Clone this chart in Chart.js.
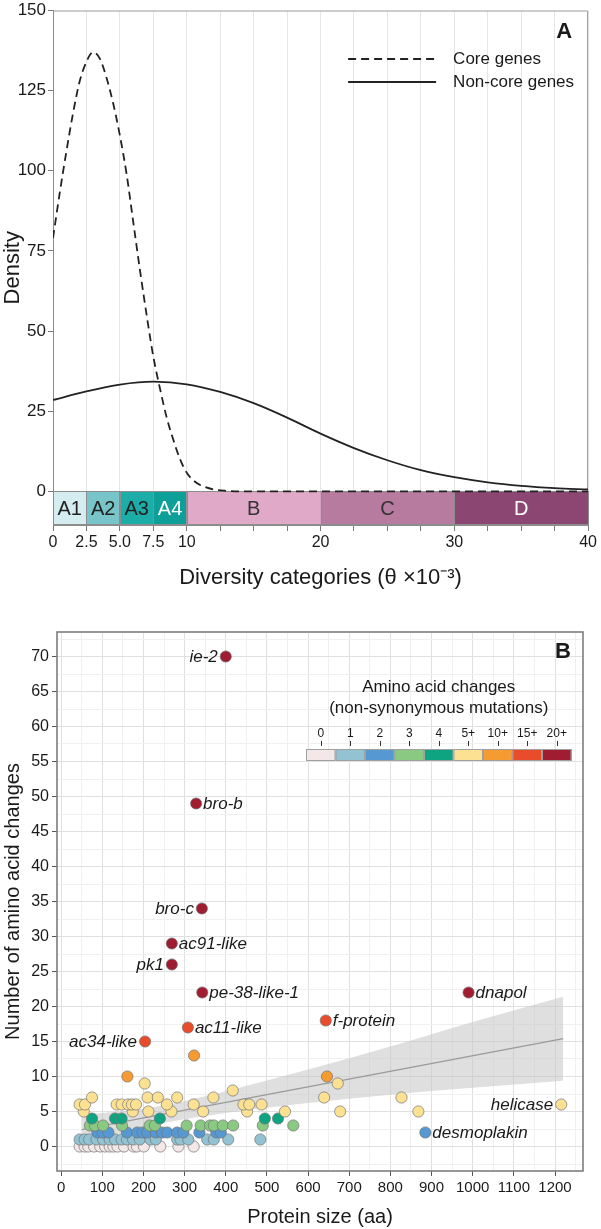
<!DOCTYPE html>
<html>
<head>
<meta charset="utf-8">
<title>Diversity categories and amino acid changes</title>
<script src="https://cdn.jsdelivr.net/npm/chart.js@4.4.1/dist/chart.umd.min.js"></script>
<style>
    html, body { margin: 0; padding: 0; background: #fff; overflow: hidden; }
    #densityChart { position: absolute; left: 0; top: 0; }
    #scatterChart { position: absolute; left: 0; top: 600px; }
</style>
</head>
<body>
<canvas id="densityChart" width="601" height="600"></canvas>
<canvas id="scatterChart" width="601" height="629"></canvas>
<script>
// ============================================
// Panel A data - density of diversity (theta x10^-3)
// ============================================
var thetaCore = [0, 0.5, 1, 1.5, 2, 2.5, 3, 3.5, 4, 4.5, 5, 5.5, 6, 6.5, 7, 7.5, 8, 8.5, 9, 9.5, 10, 10.5, 11, 12, 13, 14, 16, 20, 25, 30, 35, 40];
var densityCore = [79, 93, 106, 118, 128, 134, 137, 135, 129, 121, 111, 99, 84, 69, 55, 42, 32, 23, 16, 10, 5.8, 3.4, 2, 0.6, 0.15, 0, 0, 0, 0, 0, 0, 0];

var thetaNonCore = [0, 2.5, 5, 7.5, 10, 12.5, 15, 17.5, 20, 22.5, 25, 27.5, 30, 32.5, 35, 37.5, 40];
var densityNonCore = [28.5, 31.2, 33.3, 34.2, 33.4, 31, 27.5, 23, 18, 13.5, 9.7, 6.6, 4.4, 2.8, 1.7, 1.0, 0.6];

var categoryNames = ['A1', 'A2', 'A3', 'A4', 'B', 'C', 'D'];
var categoryStart = [0, 2.5, 5, 7.5, 10, 20, 30];
var categoryEnd = [2.5, 5, 7.5, 10, 20, 30, 40];
var categoryColors = ['#d5ecf1', '#77c5c9', '#1dada9', '#0e9f99', '#e0a9c7', '#b77b9f', '#8b4672'];
var categoryTextColors = ['#222', '#222', '#222', '#fff', '#333', '#333', '#fff'];

var diversityTicks = [0, 2.5, 5, 7.5, 10, 12.5, 15, 17.5, 20, 22.5, 25, 27.5, 30, 32.5, 35, 37.5, 40];
var diversityTickLabels = ['0', '2.5', '5.0', '7.5', '10', '', '', '', '20', '', '', '', '30', '', '', '', '40'];
var densityTicks = [0, 25, 50, 75, 100, 125, 150];

// ============================================
// Panel B data - amino acid changes vs protein size
// ============================================
var geneNames = ['ie-2', 'bro-b', 'bro-c', 'ac91-like', 'pk1', 'pe-38-like-1', 'ac11-like', 'ac34-like', 'f-protein', 'dnapol', 'helicase', 'desmoplakin'];
var geneSizes = [400, 328, 342, 269, 269, 343, 308, 204, 643, 990, 1215, 885];
var geneChanges = [70, 49, 34, 29, 26, 22, 17, 15, 18, 22, 6, 2];

var proteinSizes = [
    323, 161, 646,
    45, 58, 55, 75, 135, 147, 163, 172, 182, 174, 203, 210, 212, 235, 257, 268, 282, 322, 345, 370, 417, 443, 452, 457, 487, 544, 639, 672, 678, 827, 868,
    75, 131, 147, 240, 495, 527,
    70, 82, 102, 148, 215, 228, 305, 339, 362, 371, 393, 418, 490, 564,
    88, 101, 115, 160, 185, 198, 209, 230, 245, 258, 282, 297, 336, 377, 388,
    45, 57, 68, 86, 102, 118, 131, 147, 160, 175, 191, 217, 230, 282, 290, 309, 355, 371, 406, 484,
    45, 57, 66, 80, 95, 107, 118, 127, 137, 153, 176, 184, 201, 241, 285, 322
];
var aminoChanges = [
    13, 10, 10,
    6, 6, 5, 7, 6, 6, 6, 6, 6, 5, 9, 7, 5, 7, 6, 5, 7, 6, 5, 7, 8, 6, 5, 6, 6, 5, 7, 9, 5, 7, 5,
    4, 4, 4, 4, 4, 4,
    3, 3, 3, 3, 3, 3, 3, 3, 3, 3, 3, 3, 3, 3,
    2, 2, 2, 2, 2, 2, 2, 2, 2, 2, 2, 2, 2, 2, 2,
    1, 1, 1, 1, 1, 1, 1, 1, 1, 1, 1, 1, 1, 1, 1, 1, 1, 1, 1, 1,
    0, 0, 0, 0, 0, 0, 0, 0, 0, 0, 0, 0, 0, 0, 0, 0
];

var changeBins = [0, 1, 2, 3, 4, 5, 10, 15, 20];
var changeBinLabels = ['0', '1', '2', '3', '4', '5+', '10+', '15+', '20+'];
var changeColors = ['#f4e7e7', '#93c2d2', '#5698d2', '#89c981', '#0ea482', '#fde193', '#f69b31', '#e84c2b', '#9f1c31'];

var fitSizes = [50, 1220];
var fitChanges = [2.4, 15.4];
var bandSizes = [50, 100, 200, 300, 400, 600, 800, 1000, 1220];
var bandUpper = [4.6, 4.8, 5.4, 6.5, 7.9, 11.0, 14.3, 17.8, 21.4];
var bandLower = [0.4, 1.2, 2.8, 3.9, 4.8, 6.2, 7.4, 8.4, 9.4];

// ============================================
// Shared settings
// ============================================
var FONT = '"Liberation Sans", Arial, Helvetica, sans-serif';
var TEXT = '#1a1a1a';
Chart.defaults.font.family = FONT;
Chart.defaults.color = TEXT;

function toPoints(xs, ys) {
    return xs.map(function(x, i) { return { x: x, y: ys[i] }; });
}

function changeCategory(n) {
    for (var i = changeBins.length - 1; i >= 0; i--) {
        if (n >= changeBins[i]) return i;
    }
    return 0;
}

document.addEventListener('DOMContentLoaded', function() {
    initDensityChart();
    initScatterChart();
});

// ============================================
// Panel A
// ============================================
var categoryBandPlugin = {
    id: 'categoryBand',
    beforeDatasetsDraw: function(chart) {
        var ctx = chart.ctx, area = chart.chartArea;
        var x = chart.scales.x, y = chart.scales.y;
        var top = Math.round(y.getPixelForValue(0)) + 0.5;
        var bottom = area.bottom;

        ctx.save();
        // frame on top and right
        ctx.strokeStyle = '#9a9a9a';
        ctx.lineWidth = 1;
        ctx.beginPath();
        ctx.moveTo(area.left, area.top + 0.5);
        ctx.lineTo(area.right - 0.5, area.top + 0.5);
        ctx.lineTo(area.right - 0.5, bottom);
        ctx.stroke();

        for (var i = 0; i < categoryNames.length; i++) {
            var left = x.getPixelForValue(categoryStart[i]);
            var right = x.getPixelForValue(categoryEnd[i]);
            ctx.fillStyle = categoryColors[i];
            ctx.fillRect(left, top, right - left, bottom - top);
            ctx.strokeStyle = '#8c8c8c';
            ctx.strokeRect(Math.round(left) + 0.5, top, Math.round(right - left), bottom - top - 0.5);
            ctx.fillStyle = categoryTextColors[i];
            ctx.font = '20px ' + FONT;
            ctx.textAlign = 'center';
            ctx.textBaseline = 'middle';
            ctx.fillText(categoryNames[i], (left + right) / 2, (top + bottom) / 2 + 1);
        }
        ctx.restore();
    }
};

var densityLegendPlugin = {
    id: 'densityLegend',
    afterDraw: function(chart) {
        var ctx = chart.ctx, area = chart.chartArea;
        var sets = chart.data.datasets;
        ctx.save();
        for (var i = 0; i < sets.length; i++) {
            var rowY = 59 + i * 23;
            ctx.strokeStyle = sets[i].borderColor;
            ctx.lineWidth = 1.8;
            ctx.setLineDash(sets[i].borderDash || []);
            ctx.beginPath();
            ctx.moveTo(area.right - 240, rowY);
            ctx.lineTo(area.right - 152, rowY);
            ctx.stroke();
            ctx.setLineDash([]);
            ctx.fillStyle = TEXT;
            ctx.font = '17px ' + FONT;
            ctx.textAlign = 'left';
            ctx.textBaseline = 'middle';
            ctx.fillText(sets[i].label, area.right - 135, rowY);
        }
        ctx.font = 'bold 22px ' + FONT;
        ctx.textAlign = 'center';
        ctx.fillText('A', area.right - 24, 32);
        ctx.restore();
    }
};

function initDensityChart() {
    var ctx = document.getElementById('densityChart');
    if (!ctx) return;

    new Chart(ctx, {
        type: 'line',
        data: {
            datasets: [
                {
                    label: 'Core genes',
                    data: toPoints(thetaCore, densityCore),
                    borderColor: '#222',
                    borderWidth: 1.8,
                    borderDash: [8, 5],
                    pointRadius: 0,
                    cubicInterpolationMode: 'monotone',
                    fill: false
                },
                {
                    label: 'Non-core genes',
                    data: toPoints(thetaNonCore, densityNonCore),
                    borderColor: '#222',
                    borderWidth: 1.8,
                    pointRadius: 0,
                    cubicInterpolationMode: 'monotone',
                    fill: false
                }
            ]
        },
        options: {
            responsive: false,
            devicePixelRatio: 1,
            animation: false,
            events: [],
            layout: { padding: { top: 8, right: 9, bottom: 9, left: 0 } },
            plugins: { legend: { display: false }, tooltip: { enabled: false } },
            scales: {
                x: {
                    type: 'linear',
                    min: 0,
                    max: 40,
                    afterBuildTicks: function(scale) {
                        scale.ticks = diversityTicks.map(function(v) { return { value: v }; });
                    },
                    afterFit: function(scale) { scale.height = 66; },
                    grid: { color: '#e6e6e6', tickColor: '#777', tickLength: 6 },
                    border: { display: true, color: '#8c8c8c' },
                    ticks: {
                        autoSkip: false,
                        maxRotation: 0,
                        padding: 4,
                        color: TEXT,
                        font: { size: 16, lineHeight: 1 },
                        callback: function(value) {
                            var idx = diversityTicks.indexOf(value);
                            return idx >= 0 ? diversityTickLabels[idx] : '';
                        }
                    },
                    title: {
                        display: true,
                        text: 'Diversity categories (\u03b8 \u00d710\u207b\u00b3)',
                        color: TEXT,
                        font: { size: 22 },
                        padding: 0
                    }
                },
                y: {
                    min: -10.5,
                    max: 150,
                    afterBuildTicks: function(scale) {
                        scale.ticks = densityTicks.map(function(v) { return { value: v }; });
                    },
                    afterFit: function(scale) { scale.width = 53; },
                    grid: { drawOnChartArea: false, tickColor: '#777', tickLength: 5 },
                    border: { display: true, color: '#8c8c8c' },
                    ticks: { padding: 2, color: TEXT, font: { size: 17, lineHeight: 1 } },
                    title: {
                        display: true,
                        text: 'Density',
                        color: TEXT,
                        font: { size: 22 },
                        padding: 0
                    }
                }
            }
        },
        plugins: [categoryBandPlugin, densityLegendPlugin]
    });
}

// ============================================
// Panel B
// ============================================
var frameBPlugin = {
    id: 'frameB',
    beforeDatasetsDraw: function(chart) {
        var ctx = chart.ctx, area = chart.chartArea;
        ctx.save();
        ctx.strokeStyle = '#7d7d7d';
        ctx.lineWidth = 1.6;
        ctx.strokeRect(area.left, area.top, area.right - area.left, area.bottom - area.top);
        ctx.restore();
    }
};

var geneLabelPlugin = {
    id: 'geneLabels',
    afterDatasetsDraw: function(chart) {
        var ctx = chart.ctx;
        var x = chart.scales.x, y = chart.scales.y;
        var leftSide = ['ie-2', 'bro-c', 'pk1', 'ac34-like', 'helicase'];
        ctx.save();
        ctx.fillStyle = TEXT;
        ctx.font = 'italic 17px ' + FONT;
        ctx.textBaseline = 'middle';
        for (var i = 0; i < geneNames.length; i++) {
            var px = x.getPixelForValue(geneSizes[i]);
            var py = y.getPixelForValue(geneChanges[i]);
            var onLeft = leftSide.indexOf(geneNames[i]) >= 0;
            ctx.textAlign = onLeft ? 'right' : 'left';
            ctx.fillText(geneNames[i], onLeft ? px - 8 : px + 7, py + 1);
        }
        ctx.restore();
    }
};

var changeLegendPlugin = {
    id: 'changeLegend',
    afterDraw: function(chart) {
        var ctx = chart.ctx, area = chart.chartArea;
        var boxW = 29.5, boxH = 12;
        var left = area.right - 277, top = 149;
        var mid = left + boxW * changeBins.length / 2;

        ctx.save();
        ctx.fillStyle = TEXT;
        ctx.textAlign = 'center';
        ctx.textBaseline = 'middle';
        ctx.font = '17px ' + FONT;
        ctx.fillText('Amino acid changes', mid, 87);
        ctx.fillText('(non-synonymous mutations)', mid, 108);

        ctx.font = '12px ' + FONT;
        for (var i = 0; i < changeBins.length; i++) {
            var bx = left + i * boxW;
            ctx.fillStyle = changeColors[i];
            ctx.fillRect(bx, top, boxW, boxH);
            ctx.strokeStyle = '#a0a0a0';
            ctx.lineWidth = 1;
            ctx.strokeRect(bx + 0.5, top + 0.5, boxW - 1, boxH - 1);
            ctx.fillStyle = TEXT;
            ctx.fillText(changeBinLabels[i], bx + boxW / 2, 134);
            ctx.strokeStyle = '#333';
            ctx.beginPath();
            ctx.moveTo(Math.round(bx + boxW / 2) + 0.5, 141);
            ctx.lineTo(Math.round(bx + boxW / 2) + 0.5, 146);
            ctx.stroke();
        }

        ctx.font = 'bold 22px ' + FONT;
        ctx.fillText('B', area.right - 20, 52);
        ctx.restore();
    }
};

function initScatterChart() {
    var ctx = document.getElementById('scatterChart');
    if (!ctx) return;

    // all genes, lowest category first so the high ones sit on top
    var allSizes = proteinSizes.concat(geneSizes);
    var allChanges = aminoChanges.concat(geneChanges);
    var order = allSizes.map(function(v, i) { return i; });
    order.sort(function(a, b) { return allChanges[a] - allChanges[b]; });
    var points = order.map(function(i) { return { x: allSizes[i], y: allChanges[i] }; });
    var colors = order.map(function(i) { return changeColors[changeCategory(allChanges[i])]; });

    var xGrid = [];
    for (var gx = 0; gx <= 1250; gx += 50) xGrid.push(gx);
    var yGrid = [];
    for (var gy = -2.5; gy <= 72.5; gy += 2.5) yGrid.push(gy);

    new Chart(ctx, {
        type: 'scatter',
        data: {
            datasets: [
                {
                    label: 'Genes',
                    data: points,
                    pointRadius: 5.6,
                    pointBackgroundColor: colors,
                    pointBorderColor: 'rgba(115,115,115,0.8)',
                    pointBorderWidth: 0.9
                },
                {
                    label: 'Linear fit',
                    data: toPoints(fitSizes, fitChanges),
                    showLine: true,
                    borderColor: '#9a9a9a',
                    borderWidth: 1.3,
                    pointRadius: 0
                },
                {
                    label: 'Lower',
                    data: toPoints(bandSizes, bandLower),
                    showLine: true,
                    borderWidth: 0,
                    borderColor: 'rgba(0,0,0,0)',
                    pointRadius: 0,
                    cubicInterpolationMode: 'monotone'
                },
                {
                    label: 'Upper',
                    data: toPoints(bandSizes, bandUpper),
                    showLine: true,
                    borderWidth: 0,
                    borderColor: 'rgba(0,0,0,0)',
                    pointRadius: 0,
                    cubicInterpolationMode: 'monotone',
                    fill: '-1',
                    backgroundColor: 'rgba(196,196,198,0.55)'
                }
            ]
        },
        options: {
            responsive: false,
            devicePixelRatio: 1,
            animation: false,
            events: [],
            layout: { padding: { top: 32, right: 18, bottom: 0, left: 1 } },
            plugins: { legend: { display: false }, tooltip: { enabled: false } },
            scales: {
                x: {
                    type: 'linear',
                    min: -10,
                    max: 1268,
                    afterBuildTicks: function(scale) {
                        scale.ticks = xGrid.map(function(v) { return { value: v }; });
                    },
                    afterFit: function(scale) { scale.height = 58; },
                    grid: {
                        color: function(c) { return c.tick && c.tick.value % 100 === 0 ? '#e0e0e0' : '#f0f0f0'; },
                        tickColor: function(c) { return c.tick && c.tick.value % 100 === 0 ? '#555' : 'rgba(0,0,0,0)'; },
                        tickLength: 5
                    },
                    border: { display: false },
                    ticks: {
                        autoSkip: false,
                        maxRotation: 0,
                        padding: 4,
                        color: TEXT,
                        font: { size: 15, lineHeight: 1 },
                        callback: function(value) { return value % 100 === 0 ? String(value) : ''; }
                    },
                    title: {
                        display: true,
                        text: 'Protein size (aa)',
                        color: TEXT,
                        font: { size: 20 },
                        padding: 0
                    }
                },
                y: {
                    min: -3.5,
                    max: 73.5,
                    afterBuildTicks: function(scale) {
                        scale.ticks = yGrid.map(function(v) { return { value: v }; });
                    },
                    afterFit: function(scale) { scale.width = 56; },
                    grid: {
                        color: function(c) { return c.tick && c.tick.value % 5 === 0 ? '#e0e0e0' : '#f0f0f0'; },
                        tickColor: function(c) { return c.tick && c.tick.value % 5 === 0 ? '#555' : 'rgba(0,0,0,0)'; },
                        tickLength: 5
                    },
                    border: { display: false },
                    ticks: {
                        autoSkip: false,
                        padding: 3,
                        color: TEXT,
                        font: { size: 16, lineHeight: 1 },
                        callback: function(value) { return value % 5 === 0 && value >= 0 ? String(value) : ''; }
                    },
                    title: {
                        display: true,
                        text: 'Number of amino acid changes',
                        color: TEXT,
                        font: { size: 20 },
                        padding: 0
                    }
                }
            }
        },
        plugins: [frameBPlugin, geneLabelPlugin, changeLegendPlugin]
    });
}
</script>
</body>
</html>
